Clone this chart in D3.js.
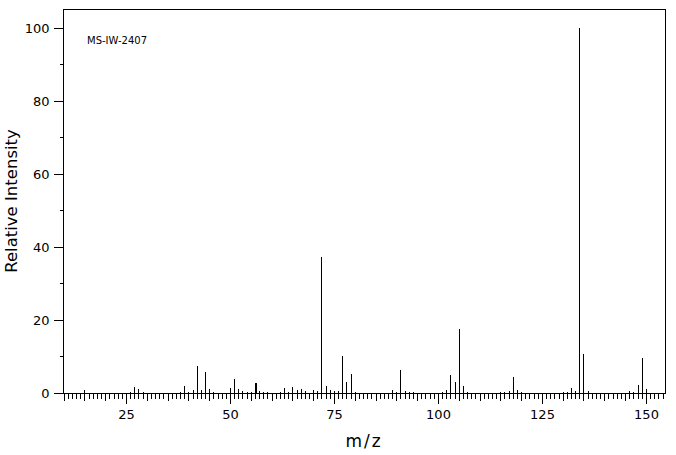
<!DOCTYPE html>
<html>
<head>
<meta charset="utf-8">
<script src="https://cdn.jsdelivr.net/npm/d3@7"></script>
<style>
  html, body { margin: 0; padding: 0; background: #fff; }
  svg { display: block; }
  text { font-family: "DejaVu Sans", sans-serif; fill: #000; }
</style>
</head>
<body>
<svg id="chart" width="676" height="455"></svg>
<script>
// ---- data ----
const title = "MS-IW-2407";
const mzValues = [15, 26, 27, 28, 29, 38, 39, 40, 41, 42, 43, 44, 45, 46,
  50, 51, 52, 53, 54, 55, 56, 57, 58, 59, 62, 63, 64, 65, 66, 67, 68,
  70, 71, 72, 73, 74, 75, 76, 77, 78, 79, 80,
  89, 90, 91, 92, 93, 94, 101, 102, 103, 104, 105, 106, 107,
  115, 116, 117, 118, 119, 120, 130, 131, 132, 133, 134, 135, 136,
  146, 147, 148, 149, 150];
const intensities = [0.9, 0.4, 1.7, 1.2, 0.4, 0.4, 2.0, 0.4, 0.9, 7.3, 0.9, 5.7, 1.2, 0.4,
  1.5, 3.9, 1.2, 0.6, 0.4, 0.4, 2.8, 0.6, 0.4, 0.3, 0.4, 1.5, 0.4, 1.7, 0.9, 1.1, 0.6,
  0.9, 0.6, 37.2, 2.0, 0.8, 0.5, 0.6, 10.0, 3.1, 5.1, 0.3,
  0.9, 0.4, 6.4, 0.6, 0.4, 0.4, 0.4, 0.9, 5.0, 3.1, 17.6, 2.0, 0.4,
  0.4, 0.4, 0.6, 4.5, 0.9, 0.4, 0.4, 0.4, 1.5, 0.6, 100, 10.8, 0.6,
  0.6, 0.4, 2.3, 9.7, 1.2];
const xMajorTicks = [25, 50, 75, 100, 125, 150];
const yMajorTicks = [0, 20, 40, 60, 80, 100];
const xLabel = "m/z";
const yLabel = "Relative Intensity";

// ---- layout ----
const svg = d3.select("#chart");
const mLeft = 63, mRight = 665, mTop = 9, mBottom = 393;
const x = d3.scaleLinear().domain([9.85, 154.6]).range([mLeft, mRight]);
const y = d3.scaleLinear().domain([0, 105.2]).range([mBottom, mTop]);
const crisp = v => Math.round(v) + 0.5;

const xMinor = d3.range(10, 155, 1);
const xMid = d3.range(10, 155, 5);
const yMinor = d3.range(10, 101, 20);

// x ticks (downward)
function xAxis(ticks, size, labels) {
  const g = svg.append("g").attr("transform", `translate(0,${mBottom + 0.5})`)
    .call(d3.axisBottom(x).tickValues(ticks).tickSize(size).tickSizeOuter(0)
      .tickFormat(labels ? d3.format("d") : () => ""));
  g.select(".domain").remove();
  g.selectAll(".tick").attr("transform", d => `translate(${crisp(x(d))},0)`);
  g.selectAll("line").attr("stroke", "#000").attr("shape-rendering", "crispEdges");
  g.selectAll("text").attr("font-size", 13).attr("y", 16).attr("dy", "0.71em")
    .attr("font-family", "DejaVu Sans, sans-serif").attr("fill", "#000");
  return g;
}
xAxis(xMinor, 5, false);
xAxis(xMid, 7, false);
xAxis(xMajorTicks, 10, true);

// y ticks (leftward)
function yAxis(ticks, size, labels) {
  const g = svg.append("g").attr("transform", `translate(${mLeft + 0.5},0)`)
    .call(d3.axisLeft(y).tickValues(ticks).tickSize(size).tickSizeOuter(0)
      .tickFormat(labels ? d3.format("d") : () => ""));
  g.select(".domain").remove();
  g.selectAll(".tick").attr("transform", d => `translate(0,${crisp(y(d))})`);
  g.selectAll("line").attr("stroke", "#000").attr("shape-rendering", "crispEdges");
  g.selectAll("text").attr("font-size", 13).attr("x", -14)
    .attr("font-family", "DejaVu Sans, sans-serif").attr("fill", "#000");
  return g;
}
yAxis(yMinor, 4, false);
yAxis(yMajorTicks, 10, true);

// frame
svg.append("rect")
  .attr("x", mLeft + 0.5).attr("y", mTop + 0.5)
  .attr("width", mRight - mLeft).attr("height", mBottom - mTop)
  .attr("fill", "none").attr("stroke", "#000").attr("shape-rendering", "crispEdges");

// peaks
const peaks = mzValues.map((m, i) => ({ mz: m, v: intensities[i] }));
svg.append("g").selectAll("line").data(peaks).join("line")
  .attr("x1", d => crisp(x(d.mz))).attr("x2", d => crisp(x(d.mz)))
  .attr("y1", y(0)).attr("y2", d => y(d.v))
  .attr("stroke", "#000").attr("stroke-width", d => d.mz === 56 ? 2 : 1)
  .attr("shape-rendering", "crispEdges");

// title inside the plot
svg.append("text").attr("x", 87).attr("y", 44)
  .attr("font-family", "DejaVu Sans Mono, monospace").attr("font-size", 10)
  .text(title);

// axis labels
svg.append("text").attr("x", (mLeft + mRight) / 2).attr("y", 447)
  .attr("text-anchor", "middle").attr("font-size", 17).attr("letter-spacing", 2)
  .text(xLabel);
svg.append("text")
  .attr("transform", `translate(17,${(mTop + mBottom) / 2}) rotate(-90)`)
  .attr("text-anchor", "middle").attr("font-size", 16.5)
  .text(yLabel);
</script>
</body>
</html>
